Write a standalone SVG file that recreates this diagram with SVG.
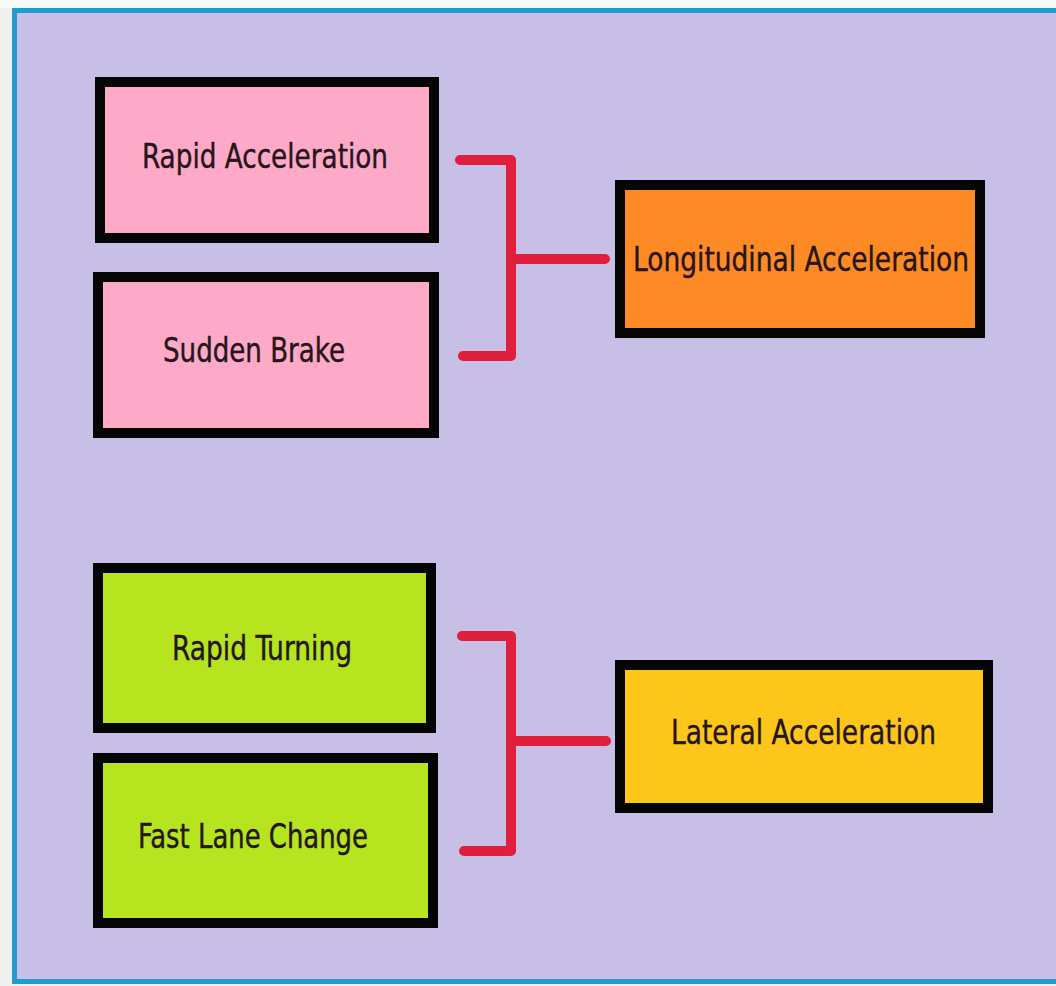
<svg xmlns="http://www.w3.org/2000/svg" width="1056" height="986" viewBox="0 0 1056 986">
<style>
.box{stroke:#050505;stroke-width:10}
.pink{fill:#ffa9c9}
.green{fill:#b6e41f}
.orange{fill:#fe8a26}
.yellow{fill:#ffc61a}
.lbl{font-family:"DejaVu Sans Condensed","DejaVu Sans",sans-serif;font-size:34px;fill:#24161a;stroke:#24161a;stroke-width:0.4}
.br{fill:none;stroke:#df1f3c;stroke-width:10;stroke-linecap:round;stroke-linejoin:round}
</style>
<rect x="0" y="0" width="1056" height="986" fill="#eeefef"/>
<rect x="0" y="0" width="1056" height="8" fill="#f5faf8"/>
<rect x="14.5" y="10.5" width="1060" height="971" fill="#c7bfe6" stroke="#1f9bd1" stroke-width="5"/>
<g id="connectors">
<path class="br" d="M460,160 H511 V356 H463 M511,259 H605"/>
<path class="br" d="M462,636 H511 V851 H464 M511,741 H606"/>
</g>
<g id="rapid-acceleration">
<rect class="box pink" x="100" y="82" width="334" height="156"/>
<text class="lbl" x="142" y="168" textLength="246" lengthAdjust="spacingAndGlyphs">Rapid Acceleration</text>
</g>
<g id="sudden-brake">
<rect class="box pink" x="98" y="277" width="336" height="156"/>
<text class="lbl" x="163" y="362" textLength="182" lengthAdjust="spacingAndGlyphs">Sudden Brake</text>
</g>
<g id="longitudinal-acceleration">
<rect class="box orange" x="620" y="185" width="360" height="148"/>
<text class="lbl" x="633" y="271" textLength="336" lengthAdjust="spacingAndGlyphs">Longitudinal Acceleration</text>
</g>
<g id="rapid-turning">
<rect class="box green" x="98" y="568" width="333" height="160"/>
<text class="lbl" x="172" y="660" textLength="180" lengthAdjust="spacingAndGlyphs">Rapid Turning</text>
</g>
<g id="fast-lane-change">
<rect class="box green" x="98" y="758" width="335" height="165"/>
<text class="lbl" x="138" y="848" textLength="230" lengthAdjust="spacingAndGlyphs">Fast Lane Change</text>
</g>
<g id="lateral-acceleration">
<rect class="box yellow" x="620" y="665" width="368" height="143"/>
<text class="lbl" x="671" y="744" textLength="265" lengthAdjust="spacingAndGlyphs">Lateral Acceleration</text>
</g>
</svg>
